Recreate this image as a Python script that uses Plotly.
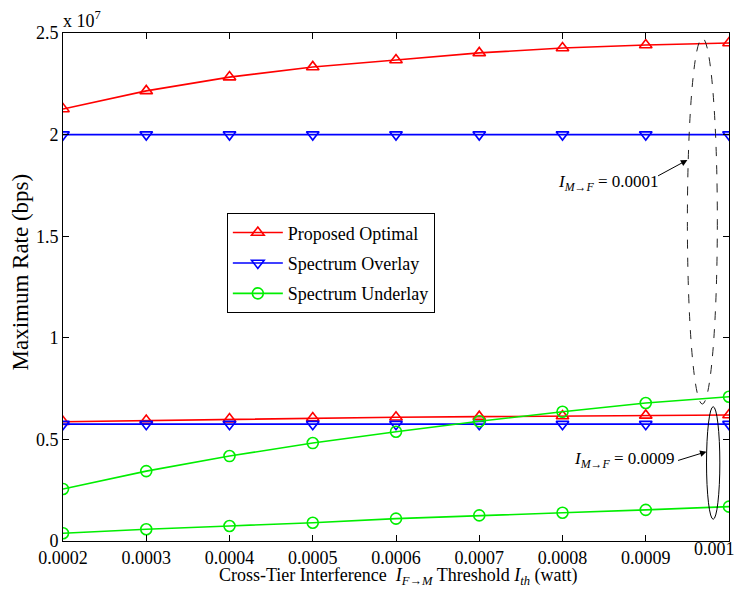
import plotly.graph_objects as go

x_vals = [0.0002, 0.0003, 0.0004, 0.0005, 0.0006, 0.0007, 0.0008, 0.0009, 0.001]
x_labels = ["0.0002", "0.0003", "0.0004", "0.0005", "0.0006", "0.0007", "0.0008", "0.0009", "0.001"]

# values in units of 1e7 bps
opt_0001 = [2.126, 2.215, 2.283, 2.333, 2.367, 2.402, 2.426, 2.441, 2.451]
overlay_0001 = [2.0, 2.0, 2.0, 2.0, 2.0, 2.0, 2.0, 2.0, 2.0]
opt_0009 = [0.587, 0.593, 0.600, 0.605, 0.609, 0.612, 0.615, 0.618, 0.620]
overlay_0009 = [0.575, 0.575, 0.575, 0.575, 0.575, 0.575, 0.575, 0.575, 0.575]
under_0001 = [0.256, 0.344, 0.418, 0.482, 0.538, 0.589, 0.636, 0.679, 0.710]
under_0009 = [0.038, 0.058, 0.074, 0.090, 0.110, 0.126, 0.139, 0.153, 0.169]

y_ticks = [0, 0.5, 1, 1.5, 2, 2.5]
y_labels = ["0", "0.5", "1", "1.5", "2", "2.5"]

SCALE = 1e7
FONT = "Times New Roman, Liberation Serif, Tinos, serif"

fig = go.Figure()

def add(y, name, color, symbol, show):
    fig.add_trace(go.Scatter(
        x=x_vals, y=[v * SCALE for v in y], mode="lines+markers", name=name,
        line=dict(color=color, width=1.6),
        marker=dict(symbol=symbol, size=11, color=color, line=dict(color=color, width=1.6)),
        showlegend=show, legendgroup=name))

add(opt_0001, "Proposed Optimal", "#ff0000", "triangle-up-open", True)
add(opt_0009, "Proposed Optimal", "#ff0000", "triangle-up-open", False)
add(overlay_0001, "Spectrum Overlay", "#0000ff", "triangle-down-open", True)
add(overlay_0009, "Spectrum Overlay", "#0000ff", "triangle-down-open", False)
add(under_0001, "Spectrum Underlay", "#00ee00", "circle-open", True)
add(under_0009, "Spectrum Underlay", "#00ee00", "circle-open", False)

# ellipses
fig.add_shape(type="circle", xref="x", yref="y",
              x0=0.000950, x1=0.000986, y0=0.674 * SCALE, y1=2.475 * SCALE,
              line=dict(color="#222222", width=1, dash="dash"))
fig.add_shape(type="circle", xref="x", yref="y",
              x0=0.000973, x1=0.000989, y0=0.107 * SCALE, y1=0.661 * SCALE,
              line=dict(color="black", width=1))

# arrows
fig.add_annotation(x=0.000950, y=1.875 * SCALE, ax=0.000913, ay=1.793 * SCALE,
                   axref="x", ayref="y", xref="x", yref="y", text="",
                   showarrow=True, arrowhead=2, arrowsize=1.3, arrowwidth=1, arrowcolor="black")
fig.add_annotation(x=0.000973, y=0.4395 * SCALE, ax=0.000937, ay=0.394 * SCALE,
                   axref="x", ayref="y", xref="x", yref="y", text="",
                   showarrow=True, arrowhead=2, arrowsize=1.3, arrowwidth=1, arrowcolor="black")

lab = "<i>I</i><sub><i>M→F</i></sub> = {}"
fig.add_annotation(x=0.000918, y=1.76 * SCALE, xref="x", yref="y", xanchor="right", yanchor="middle",
                   text=lab.format("0.0001"), showarrow=False, font=dict(family=FONT, size=17, color="black"))
fig.add_annotation(x=0.000938, y=0.400 * SCALE, xref="x", yref="y", xanchor="right", yanchor="middle",
                   text=lab.format("0.0009"), showarrow=False, font=dict(family=FONT, size=17, color="black"))

# exponent label
fig.add_annotation(x=0, y=1, xref="paper", yref="paper", xanchor="left", yanchor="bottom",
                   text="x 10<sup>7</sup>", showarrow=False, font=dict(family=FONT, size=18, color="black"),
                   yshift=0, xshift=-2)

# y-axis title as rotated text (sits slightly above the plot centre in the reference)
fig.add_annotation(x=-0.0638, y=0.5295, xref="paper", yref="paper", xanchor="center", yanchor="middle",
                   text="Maximum Rate (bps)", textangle=-90, showarrow=False,
                   font=dict(family=FONT, size=23, color="black"))

# x-axis title as text below the tick labels
fig.add_annotation(x=0.5045, y=0, xref="paper", yref="paper", xanchor="center", yanchor="middle",
                   text="Cross-Tier Interference  <i>I</i><sub><i>F→M</i></sub> Threshold <i>I</i><sub><i>th</i></sub> (watt)",
                   showarrow=False, yshift=-35, font=dict(family=FONT, size=18, color="black"))

# last x tick label, kept inside the page edge
fig.add_annotation(x=1, y=0, xref="paper", yref="paper", xanchor="right", yanchor="middle",
                   text=x_labels[-1], showarrow=False, xshift=8, yshift=-8,
                   font=dict(family=FONT, size=18, color="black"))
tick_text = x_labels[:-1] + [""]

# page body adds an 8px margin on every side; size the figure so the page does not overflow
fig.update_layout(
    width=729, height=577,
    margin=dict(l=55, r=8, t=25, b=44, autoexpand=False),
    paper_bgcolor="white", plot_bgcolor="white",
    font=dict(family=FONT, size=18, color="black"),
    legend=dict(x=0.246, y=0.645, xanchor="left", yanchor="top",
                bordercolor="black", borderwidth=1, bgcolor="white", itemwidth=50,
                font=dict(family=FONT, size=18), tracegroupgap=4),
    xaxis=dict(range=[0.0002, 0.001], tickvals=x_vals, ticktext=tick_text,
               showgrid=False, zeroline=False, showline=True, linecolor="black", linewidth=1,
               mirror="allticks", ticks="inside", ticklen=6, tickcolor="black",
               automargin=False,
               tickfont=dict(family=FONT, size=18)),
    yaxis=dict(range=[0, 2.5 * SCALE], tickvals=[v * SCALE for v in y_ticks], ticktext=y_labels,
               showgrid=False, zeroline=False, showline=True, linecolor="black", linewidth=1,
               mirror="allticks", ticks="inside", ticklen=6, tickcolor="black", automargin=False,
               tickfont=dict(family=FONT, size=18)),
)

fig.write_html("out.html")
